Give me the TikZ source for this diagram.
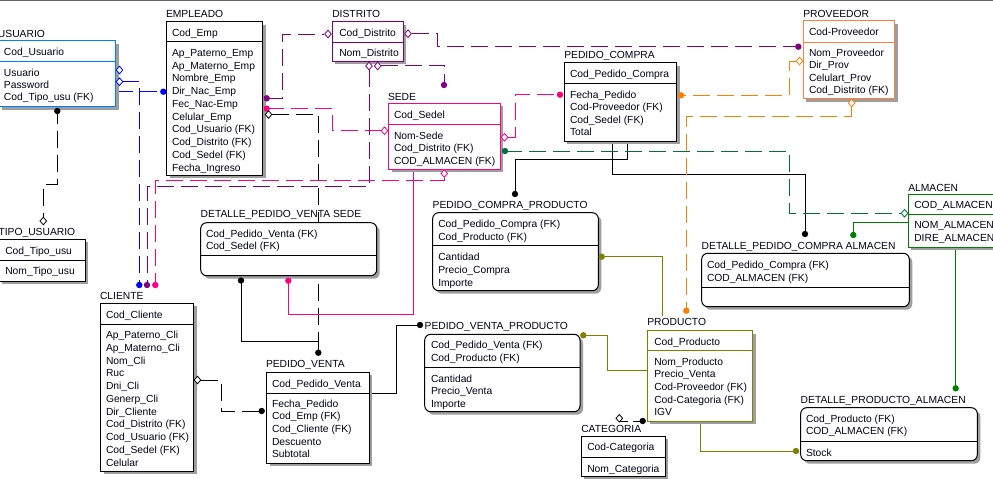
\documentclass[tikz,border=0pt]{standalone}
\usepackage{fontspec}
\setmainfont{Liberation Sans}
\definecolor{usub}{RGB}{0,128,255}
\definecolor{lblue}{RGB}{0,0,255}
\definecolor{pur}{RGB}{128,0,128}
\definecolor{pnk}{RGB}{255,0,128}
\definecolor{org}{RGB}{255,128,0}
\definecolor{orgb}{RGB}{255,128,64}
\definecolor{grn}{RGB}{0,128,0}
\definecolor{dgrn}{RGB}{0,112,64}
\definecolor{olv}{RGB}{128,128,0}
\newcommand\entbox[8]{%
 \fill[shd,#8] ({(#3)+3},{(#4)+3}) rectangle ({(#5)+3},{(#7)+3});
 \node[draw=#2, fill=white, boxl, #8, inner sep=0pt, outer sep=0pt,
   minimum width={((#5)-(#3))*1pt}, minimum height={((#7)-(#4))*1pt}]
   (#1) at ({((#3)+(#5))/2},{((#4)+(#7))/2}) {};
 \draw[draw=#2, boxl] (#3,#6) -- (#5,#6);
}
\newcommand\etext[4]{\node[txt] (#1) at (#2,{(#3)+3.8}) {#4};}
\newcommand\elist[5]{\foreach \t [count=\i from 0] in {#5} {\node[txt] (#1\i) at (#2,{(#3)+\i*(#4)+3.8}) {\t};}}
\newcommand\dotm[3]{\fill[#1] (#2,#3) circle[radius=3.2pt];}
\newcommand\diam[3]{\draw[#1, fill=white, line width=0.8pt, shift={(#2,#3)}] (-3.3,0) -- (0,-3.8) -- (3.3,0) -- (0,3.8) -- cycle;}
\begin{document}
\begin{tikzpicture}[x=1pt,y=-1pt,
  txt/.style={anchor=base west, inner sep=0pt, outer sep=0pt, font=\fontsize{10.3}{12}\selectfont, text=black!90!blue},
  boxl/.style={line width=1pt},
  conn/.style={line width=0.9pt},
  dsh/.style={dash pattern=on 17pt off 7pt},
  shd/.style={fill=black!38},
  rnd/.style={rounded corners=6pt}]
\useasboundingbox (0,0) rectangle (993,479);
\fill[white] (0,0) rectangle (993,479);
\draw[black!60, line width=1.2pt] (0,0.6) -- (993,0.6);

% ---------- connectors (under boxes) ----------
\draw[conn,lblue,dsh] (121.5,81.7) -- (139.3,81.7) -- (139.3,285);
\draw[conn,lblue,dsh] (115.7,91.7) -- (163.3,91.7);
\draw[conn,dsh] (57.3,106.7) -- (57.3,184) -- (43.3,184) -- (43.3,217);
\draw[conn,pur,dsh] (266.7,98.3) -- (282.7,98.3) -- (282.7,34) -- (324,34);
\draw[conn,pnk,dsh] (266.7,108.7) -- (332.7,108.7) -- (332.7,130.7) -- (381,130.7);
\draw[conn,dsh] (272,114.5) -- (318.3,114.5) -- (318.3,352.7);
\draw[conn,pur,dsh] (412,33.7) -- (437.3,33.7) -- (437.3,46.7) -- (798.3,46.7);
\draw[conn,pur,dsh] (381,65.3) -- (444,65.3) -- (444,85);
\draw[conn,pur,dsh] (369,70) -- (369,186.7) -- (147,186.7) -- (147,285);
\draw[conn,pnk,dsh] (444.3,177.5) -- (444.3,180) -- (155.3,180) -- (155.3,285);
\draw[conn,pnk,dsh] (508,137.3) -- (515,137.3) -- (515,94.7) -- (560,94.7);
\draw[conn,pnk] (413.3,169.3) -- (413.3,314.3) -- (288.3,314.3) -- (288.3,280.7);
\draw[conn] (241,280.5) -- (241,341) -- (318.3,341) -- (318.3,352.7);
\draw[conn,dsh] (200.5,380) -- (221,380) -- (221,411) -- (261.7,411);
\draw[conn] (369.3,393.3) -- (396.7,393.3) -- (396.7,325) -- (420,325);
\draw[conn] (627.7,141.3) -- (627.7,159) -- (515,159) -- (515,194);
\draw[conn] (612.3,141.3) -- (612.3,174.3) -- (805,174.3) -- (805,234);
\draw[conn,dgrn,dsh] (505,151) -- (789.3,151) -- (789.3,213.3) -- (900.8,213.3);
\draw[conn,grn] (908.3,222.3) -- (853.3,222.3) -- (853.3,235);
\draw[conn,grn] (955.7,247.3) -- (955.7,388.3);
\draw[conn,org,dsh] (796,61) -- (789.3,61) -- (789.3,95.3) -- (681,95.3);
\draw[conn,org,dsh] (851.7,107) -- (851.7,116.7) -- (686.3,116.7) -- (686.3,310.7);
\draw[conn,olv] (601.7,256.7) -- (662.3,256.7) -- (662.3,316);
\draw[conn,olv] (583.3,335.3) -- (607.3,335.3) -- (607.3,370.3) -- (647.3,370.3);
\draw[conn,olv] (700.3,421.3) -- (700.3,451) -- (796,451);
\draw[conn,dash pattern=on 8pt off 5pt] (620,421.5) -- (643,421.5);

% ---------- entities ----------
% USUARIO
\entbox{usu}{usub}{-1.5}{40.7}{115.7}{61}{106.7}{}
\etext{usut}{-2}{33.3}{USUARIO}
\etext{usuk}{4}{51.3}{Cod\_Usuario}
\elist{usua}{4}{72.3}{12.35}{Usuario,Password,Cod\_Tipo\_usu (FK)}
% EMPLEADO
\entbox{emp}{black}{166.7}{21.7}{262.7}{41.7}{175}{}
\etext{empt}{166}{14}{EMPLEADO}
\etext{empk}{172}{32.7}{Cod\_Emp}
\elist{empa}{172}{52.7}{12.74}{Ap\_Paterno\_Emp,Ap\_Materno\_Emp,Nombre\_Emp,Dir\_Nac\_Emp,Fec\_Nac-Emp,Celular\_Emp,Cod\_Usuario (FK),Cod\_Distrito (FK),Cod\_Sedel (FK),Fecha\_Ingreso}
% DISTRITO
\entbox{dis}{pur}{332.3}{21.7}{403.3}{42}{61.3}{}
\etext{dist}{332.3}{14}{DISTRITO}
\etext{disk}{339.3}{32.7}{Cod\_Distrito}
\etext{disa}{339.3}{52.7}{Nom\_Distrito}
% SEDE
\entbox{sede}{pnk}{388.7}{103.3}{500.3}{124.7}{169.3}{}
\etext{sedet}{388}{96.3}{SEDE}
\etext{sedek}{394}{114.3}{Cod\_Sedel}
\elist{sedea}{394}{135.3}{12.7}{Nom-Sede,Cod\_Distrito (FK),COD\_ALMACEN (FK)}
% PEDIDO_COMPRA
\entbox{pc}{black}{564.3}{62.7}{676.7}{83.3}{141.3}{}
\etext{pct}{564.3}{54.7}{PEDIDO\_COMPRA}
\etext{pck}{570}{73.7}{Cod\_Pedido\_Compra}
\elist{pca}{570}{94.3}{12.6}{Fecha\_Pedido,Cod-Proveedor (FK),Cod\_Sedel (FK),Total}
% PROVEEDOR
\entbox{prov}{orgb}{803.3}{20.7}{894.7}{42}{98.7}{}
\etext{provt}{803.3}{13.3}{PROVEEDOR}
\etext{provk}{809}{31.7}{Cod-Proveedor}
\elist{prova}{809}{52.3}{12.6}{Nom\_Proveedor,Dir\_Prov,Celulart\_Prov,Cod\_Distrito (FK)}
% ALMACEN
\entbox{alm}{grn}{908.3}{194.3}{1010}{214.3}{247.3}{}
\etext{almt}{908.3}{187.3}{ALMACEN}
\etext{almk}{914.3}{205}{COD\_ALMACEN}
\elist{alma}{914.3}{224.3}{13.3}{NOM\_ALMACEN,DIRE\_ALMACEN}
% TIPO_USUARIO
\entbox{tipo}{black}{-1}{239.3}{85.3}{260.3}{281}{}
\etext{tipot}{-1.5}{231.7}{TIPO\_USUARIO}
\etext{tipok}{5.3}{250.7}{Cod\_Tipo\_usu}
\etext{tipoa}{5.3}{271}{Nom\_Tipo\_usu}
% CLIENTE
\entbox{cli}{black}{100.7}{303.3}{193.7}{324}{471.3}{}
\etext{clit}{100}{296}{CLIENTE}
\etext{clik}{106}{314.3}{Cod\_Cliente}
\elist{clia}{106}{335}{12.73}{Ap\_Paterno\_Cli,Ap\_Materno\_Cli,Nom\_Cli,Ruc,Dni\_Cli,Generp\_Cli,Dir\_Cliente,Cod\_Distrito (FK),Cod\_Usuario (FK),Cod\_Sedel (FK),Celular}
% PEDIDO_VENTA
\entbox{pv}{black}{266.7}{372.3}{369.3}{393.3}{463.3}{}
\etext{pvt}{266}{364}{PEDIDO\_VENTA}
\etext{pvk}{272}{383.3}{Cod\_Pedido\_Venta}
\elist{pva}{272}{403.3}{12.65}{Fecha\_Pedido,Cod\_Emp (FK),Cod\_Cliente (FK),Descuento,Subtotal}
% DETALLE_PEDIDO_VENTA SEDE
\entbox{dpvs}{black}{200.7}{222.7}{376.7}{255}{275.7}{rnd}
\etext{dpvst}{200.7}{214}{DETALLE\_PEDIDO\_VENTA SEDE}
\elist{dpvsk}{206}{233.3}{12}{Cod\_Pedido\_Venta (FK),Cod\_Sedel (FK)}
% PEDIDO_COMPRA_PRODUCTO
\entbox{pcp}{black}{432.7}{212.7}{598.3}{245.3}{290.7}{rnd}
\etext{pcpt}{432.7}{204.7}{PEDIDO\_COMPRA\_PRODUCTO}
\elist{pcpk}{438.3}{223.3}{13.2}{Cod\_Pedido\_Compra (FK),Cod\_Producto (FK)}
\elist{pcpa}{438.3}{256.3}{13}{Cantidad,Precio\_Compra,Importe}
% DETALLE_PEDIDO_COMPRA ALMACEN
\entbox{dpca}{black}{701.7}{253.3}{909.3}{287.3}{306.7}{rnd}
\etext{dpcat}{701.7}{246}{DETALLE\_PEDIDO\_COMPRA ALMACEN}
\elist{dpcak}{707}{265}{12.7}{Cod\_Pedido\_Compra (FK),COD\_ALMACEN (FK)}
% PEDIDO_VENTA_PRODUCTO
\entbox{pvp}{black}{424.7}{334.3}{580}{367.3}{411.7}{rnd}
\etext{pvpt}{424.7}{325.7}{PEDIDO\_VENTA\_PRODUCTO}
\elist{pvpk}{431}{345}{12.7}{Cod\_Pedido\_Venta (FK),Cod\_Producto (FK)}
\elist{pvpa}{431}{378.3}{12.7}{Cantidad,Precio\_Venta,Importe}
% PRODUCTO
\entbox{prod}{olv}{647.3}{330.7}{752.7}{350}{421.3}{}
\etext{prodt}{647.3}{321.7}{PRODUCTO}
\etext{prodk}{654.3}{341.3}{Cod\_Producto}
\elist{proda}{654.3}{361.3}{12.7}{Nom\_Producto,Precio\_Venta,Cod-Proveedor (FK),Cod-Categoria (FK),IGV}
% CATEGORIA
\entbox{cat}{black}{581.3}{436.3}{665.3}{457.3}{476}{}
\etext{catt}{581.3}{428.7}{CATEGORIA}
\etext{catk}{587.3}{447}{Cod-Categoria}
\etext{cata}{587.3}{468.3}{Nom\_Categoria}
% DETALLE_PRODUCTO_ALMACEN
\entbox{dpa}{black}{800.7}{407.7}{977.3}{441.3}{460.7}{rnd}
\etext{dpat}{800.7}{400}{DETALLE\_PRODUCTO\_ALMACEN}
\elist{dpak}{806}{418.3}{12.7}{Cod\_Producto (FK),COD\_ALMACEN (FK)}
\etext{dpaa}{806}{452.3}{Stock}

% ---------- end markers ----------
\dotm{lblue}{163.3}{91.7}
\dotm{lblue}{139.3}{285}
\dotm{pur}{147}{285}
\dotm{pnk}{155.3}{285}
\dotm{black}{57.3}{111}
\dotm{pur}{266.7}{98.3}
\dotm{pnk}{266.7}{108.7}
\dotm{pur}{444}{85}
\dotm{pur}{798.3}{46.7}
\dotm{pnk}{560}{94.7}
\dotm{dgrn}{505}{151}
\dotm{org}{681}{95.3}
\dotm{black}{515}{194}
\dotm{black}{805}{234}
\dotm{grn}{853.3}{235}
\dotm{grn}{955.7}{388.3}
\dotm{org}{686.3}{310.7}
\dotm{olv}{601.7}{256.7}
\dotm{olv}{583.3}{335.3}
\dotm{olv}{796}{451}
\dotm{black}{642.7}{421}
\dotm{black}{241}{280.5}
\dotm{pnk}{288.3}{280.7}
\dotm{black}{318.3}{352.7}
\dotm{black}{261.7}{411}
\dotm{black}{420}{325}
\diam{lblue}{119.5}{70}
\diam{lblue}{119.5}{81.7}
\diam{black}{43.3}{221}
\diam{pur}{328}{34}
\diam{pnk}{384.5}{130.7}
\diam{black}{268.5}{114.5}
\diam{pur}{408}{33.7}
\diam{pur}{369}{66}
\diam{pur}{377.7}{66}
\diam{pnk}{444.3}{173.5}
\diam{pnk}{504.5}{137.3}
\diam{org}{799.5}{61}
\diam{org}{851.7}{103}
\diam{dgrn}{904.5}{213.3}
\diam{black}{197.5}{380}
\diam{black}{619.3}{418.3}
\end{tikzpicture}
\end{document}
